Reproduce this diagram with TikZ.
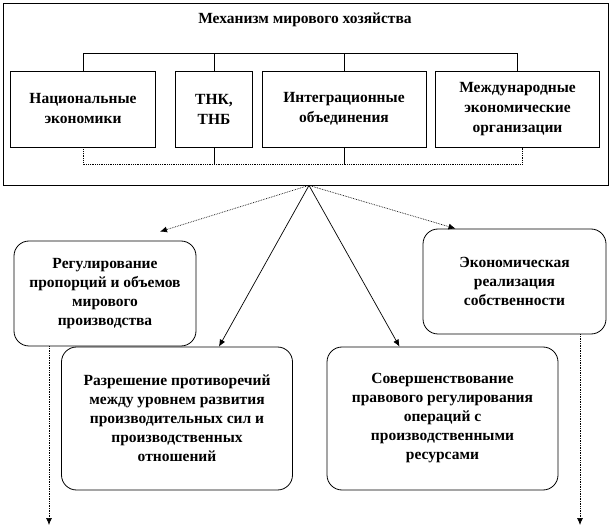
\documentclass[tikz,border=0pt]{standalone}
\usepackage{fontspec}
\setmainfont{Liberation Serif}
\usepackage{tikz}
\usetikzlibrary{arrows.meta, positioning, calc}
\definecolor{mydark}{RGB}{0,0,0}
\tikzset{
  frame/.style={rectangle, draw=mydark, line width=0.8pt, inner sep=0pt},
  title/.style={font=\bfseries\fontsize{15.5}{19}\selectfont, inner sep=0pt},
  partbox/.style={rectangle, draw=mydark, line width=0.8pt,
    align=center, minimum height=76pt, inner sep=0pt,
    font=\bfseries\fontsize{15.5}{20}\selectfont},
  taskbox/.style={rectangle, draw=mydark, line width=0.8pt,
    align=center, rounded corners=15pt, inner sep=0pt,
    font=\bfseries\fontsize{15.5}{19}\selectfont},
  arrow/.style={-{Latex[length=7pt,width=6pt]}, line width=0.7pt, color=mydark},
  dotarrow/.style={arrow, densely dotted},
  line/.style={line width=0.8pt, color=mydark},
  dotline/.style={line, densely dotted}
}

\begin{document}
\begin{tikzpicture}[x=1pt, y=-1pt]
  \useasboundingbox (0,0) rectangle (611,529);

  % Outer frame and title
  \node[frame, minimum width=605pt, minimum height=182pt] (frame) at (305.5,94) {};
  \node[title] (title) at (305,20) {Механизм мирового хозяйства};

  % Parts of the mechanism
  \node[partbox, minimum width=145pt] (nat) at (83,109) {Национальные\\экономики};
  \node[partbox, minimum width=77pt] (tnk) at (214,109) {ТНК,\\ТНБ};
  \node[partbox, minimum width=164pt] (integ) at (344,109) {Интеграционные\\объединения};
  \node[partbox, minimum width=164pt] (org) at (517.5,109) {Международные\\экономические\\организации};

  % Brackets above and below
  \coordinate (topbar) at (0,53);
  \coordinate (botbar) at (0,164);
  \draw[line] (nat.north) |- (topbar -| org.north) -- (org.north);
  \draw[line] (tnk.north) -- (tnk.north |- topbar);
  \draw[line] (integ.north) -- (integ.north |- topbar);
  \draw[dotline] (nat.south) |- ($(org.south |- botbar)+(5,0)$) -- ($(org.south)+(5,0)$);
  \draw[line] (tnk.south) -- (tnk.south |- botbar);
  \draw[line] (integ.south) -- (integ.south |- botbar);

  % Tasks
  \node[taskbox, minimum width=182pt, minimum height=105pt] (reg) at (105,293.5)
    {Регулирование\\пропорций и объемов\\мирового\\производства};
  \node[taskbox, minimum width=183pt, minimum height=105pt] (econ) at (514.5,281.5)
    {Экономическая\\реализация\\собственности};
  \node[taskbox, minimum width=231pt, minimum height=143pt] (contr) at (177,418.5)
    {Разрешение противоречий\\между уровнем развития\\производительных сил и\\производственных\\отношений};
  \node[taskbox, minimum width=231pt, minimum height=143pt] (law) at (442.5,418.5)
    {Совершенствование\\правового регулирования\\операций с\\производственными\\ресурсами};

  % Fan of arrows
  \coordinate (apex) at ($(frame.south)+(3.5,0)$);
  \draw[dotarrow] (apex) -- ($(reg.north)+(55,-9)$);
  \draw[arrow] (apex) -- ($(contr.north)+(42,0)$);
  \draw[arrow] (apex) -- ($(law.north)+(-43,0)$);
  \draw[dotarrow] (apex) -- ($(econ.north)+(-59,0)$);

  % Outputs
  \coordinate (regout) at (49,525);
  \coordinate (econout) at (580,525);
  \draw[dotarrow] (reg.south -| regout) -- (regout);
  \draw[dotarrow] (econ.south -| econout) -- (econout);
\end{tikzpicture}
\end{document}
